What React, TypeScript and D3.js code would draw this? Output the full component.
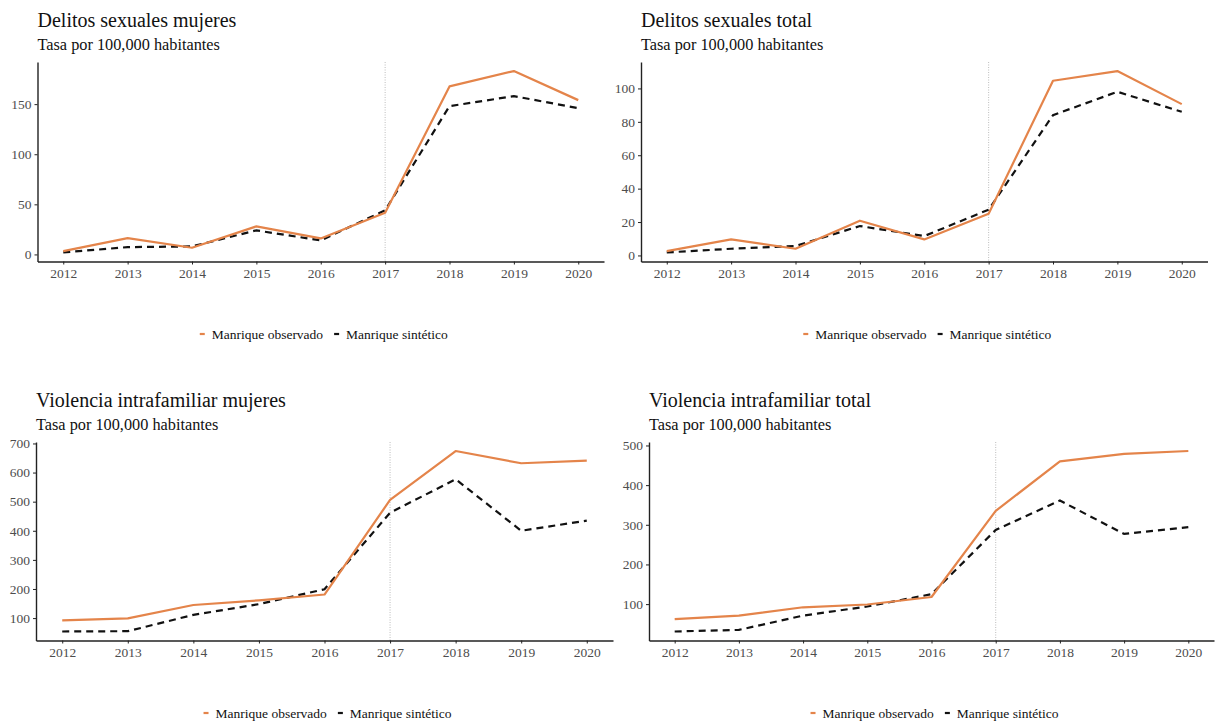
import React, { useEffect, useRef } from "react";
import * as d3 from "d3";

// Años de la serie
const years = [2012, 2013, 2014, 2015, 2016, 2017, 2018, 2019, 2020];

// Delitos sexuales mujeres (tasa por 100,000)
const dsMujeresObs = [3.3, 16.3, 6.7, 28, 16, 41.7, 167.7, 183, 154];
const dsMujeresSin = [2, 7.3, 8, 24, 14, 44, 148, 158, 146];

// Delitos sexuales total
const dsTotalObs = [2.6, 9.6, 4, 20.8, 9.6, 25, 104.6, 110.4, 90.6];
const dsTotalSin = [1.8, 4, 5.6, 17.6, 11.6, 27.4, 84, 98, 86];

// Violencia intrafamiliar mujeres
const viMujeresObs = [92, 99, 145, 161, 181, 506, 674, 632, 641];
const viMujeresSin = [54, 55, 111, 148, 199, 462, 577, 400, 435];

// Violencia intrafamiliar total
const viTotalObs = [62, 71, 92, 99, 118, 335, 460, 479, 486];
const viTotalSin = [31, 35, 71, 94, 125, 287, 361, 277, 294];

// Marcas del eje y por panel
const ticksDsMujeres = [0, 50, 100, 150];
const ticksDsTotal = [0, 20, 40, 60, 80, 100];
const ticksViMujeres = [100, 200, 300, 400, 500, 600, 700];
const ticksViTotal = [100, 200, 300, 400, 500];

const interventionYear = 2017;
const subtitle = "Tasa por 100,000 habitantes";
const seriesNames = ["Manrique observado", "Manrique sintético"];

const ORANGE = "#E4844A";
const BLACK = "#111111";
const FONT = "'Liberation Serif', 'Times New Roman', serif";

type Panel = {
  title: string;
  obs: number[];
  sin: number[];
  ticks: number[];
  left: number;
  right: number;
  top: number;
  bottom: number;
};

const panels: Panel[] = [
  { title: "Delitos sexuales mujeres", obs: dsMujeresObs, sin: dsMujeresSin, ticks: ticksDsMujeres, left: 37.5, right: 604, top: 62, bottom: 261.5 },
  { title: "Delitos sexuales total", obs: dsTotalObs, sin: dsTotalSin, ticks: ticksDsTotal, left: 641, right: 1207.5, top: 62, bottom: 261.5 },
  { title: "Violencia intrafamiliar mujeres", obs: viMujeresObs, sin: viMujeresSin, ticks: ticksViMujeres, left: 36, right: 613, top: 442, bottom: 640.5 },
  { title: "Violencia intrafamiliar total", obs: viTotalObs, sin: viTotalSin, ticks: ticksViTotal, left: 649, right: 1214, top: 442, bottom: 640.5 },
];

function drawPanel(svg: d3.Selection<SVGSVGElement, unknown, null, undefined>, p: Panel) {
  const g = svg.append("g");
  const xSpan = years[years.length - 1] - years[0];
  const x = d3
    .scaleLinear()
    .domain([years[0] - xSpan * 0.05, years[years.length - 1] + xSpan * 0.05])
    .range([p.left, p.right]);
  const [lo, hi] = d3.extent([...p.obs, ...p.sin]) as [number, number];
  const pad = (hi - lo) * 0.05;
  const y = d3.scaleLinear().domain([lo - pad, hi + pad]).range([p.bottom, p.top]);

  // Títulos
  g.append("text")
    .attr("x", p.left)
    .attr("y", p.top - 35)
    .attr("font-family", FONT)
    .attr("font-size", 20)
    .attr("fill", "#111")
    .text(p.title);
  g.append("text")
    .attr("x", p.left)
    .attr("y", p.top - 12)
    .attr("font-family", FONT)
    .attr("font-size", 16.3)
    .attr("fill", "#111")
    .text(subtitle);

  // Línea vertical de intervención
  g.append("line")
    .attr("x1", x(interventionYear))
    .attr("x2", x(interventionYear))
    .attr("y1", p.top)
    .attr("y2", p.bottom)
    .attr("stroke", "#b5b5b5")
    .attr("stroke-width", 0.9)
    .attr("stroke-dasharray", "1,1.5");

  // Ejes
  const xAxis = g
    .append("g")
    .attr("transform", `translate(0,${p.bottom})`)
    .call(d3.axisBottom(x).tickValues(years).tickFormat(d3.format("d")).tickSize(3).tickSizeOuter(0));
  xAxis.select(".domain").attr("stroke", "#222").attr("stroke-width", 1.4);
  xAxis.selectAll(".tick line").attr("stroke", "#222").attr("stroke-width", 1);
  xAxis
    .selectAll(".tick text")
    .attr("font-family", FONT)
    .attr("font-size", 13.5)
    .attr("fill", "#4d4d4d")
    .attr("dy", "0.71em")
    .attr("y", 6.5);

  const yAxis = g
    .append("g")
    .attr("transform", `translate(${p.left},0)`)
    .call(d3.axisLeft(y).tickValues(p.ticks).tickFormat(d3.format("d")).tickSize(3).tickSizeOuter(0));
  yAxis.select(".domain").attr("stroke", "#222").attr("stroke-width", 1.4);
  yAxis.selectAll(".tick line").attr("stroke", "#222").attr("stroke-width", 1);
  yAxis
    .selectAll(".tick text")
    .attr("font-family", FONT)
    .attr("font-size", 13.5)
    .attr("fill", "#4d4d4d")
    .attr("x", -6);

  // Series
  const line = d3
    .line<number>()
    .x((_, i) => x(years[i]))
    .y((d) => y(d));
  g.append("path")
    .datum(p.sin)
    .attr("d", line)
    .attr("fill", "none")
    .attr("stroke", BLACK)
    .attr("stroke-width", 2.2)
    .attr("stroke-dasharray", "7,5");
  g.append("path")
    .datum(p.obs)
    .attr("d", line)
    .attr("fill", "none")
    .attr("stroke", ORANGE)
    .attr("stroke-width", 2.2)
    .attr("stroke-linejoin", "round");

  // Leyenda
  const ly = p.bottom + 72.5;
  const leg = g.append("g");
  const keyW = 5;
  const colors = [ORANGE, BLACK];
  let cx = 0;
  seriesNames.forEach((name, i) => {
    leg
      .append("line")
      .attr("x1", cx)
      .attr("x2", cx + keyW)
      .attr("y1", ly)
      .attr("y2", ly)
      .attr("stroke", colors[i])
      .attr("stroke-width", 2.2);
    const t = leg
      .append("text")
      .attr("x", cx + keyW + 7)
      .attr("y", ly)
      .attr("dy", "0.35em")
      .attr("font-family", FONT)
      .attr("font-size", 13.5)
      .attr("fill", "#111")
      .text(name);
    const w = (t.node() as SVGTextElement).getComputedTextLength();
    cx += keyW + 7 + w + 11;
  });
  const total = cx - 11;
  const center = (p.left + p.right) / 2 + 3;
  leg.attr("transform", `translate(${center - total / 2},0)`);
}

export default function App() {
  const ref = useRef<SVGSVGElement>(null);
  useEffect(() => {
    if (!ref.current) return;
    const svg = d3.select(ref.current);
    svg.selectAll("*").remove();
    panels.forEach((p) => drawPanel(svg, p));
  }, []);
  return (
    <svg
      ref={ref}
      width={1216}
      height={721}
      style={{ position: "absolute", left: 0, top: 0, background: "#fff" }}
    />
  );
}
